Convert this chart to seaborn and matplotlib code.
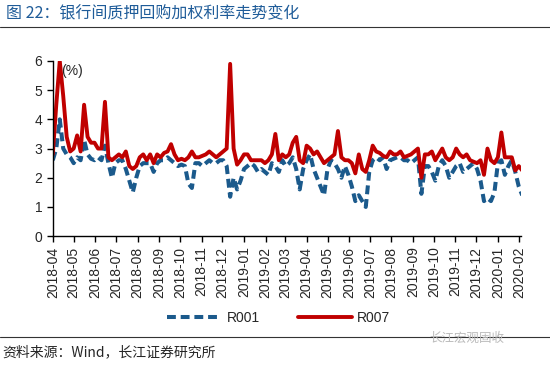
import matplotlib
matplotlib.use('Agg')
import matplotlib.pyplot as plt
import matplotlib.dates as mdates
import seaborn as sns
import pandas as pd

# 5-day samples starting 2018-04-01
r007 = [2.8, 4.5, 6.0, 4.8, 3.4, 2.9, 3.0, 3.45, 2.9, 4.5,
        3.4, 3.2, 3.2, 3.0, 3.0, 4.6, 2.7, 2.6, 2.7, 2.8,
        2.7, 2.9, 2.4, 2.3, 2.4, 2.7, 2.8, 2.6, 2.8, 2.5,
        2.8, 2.7, 2.85, 2.9, 3.15, 2.8, 2.6, 2.65, 2.6, 2.7,
        2.9, 2.7, 2.7, 2.75, 2.8, 2.9, 2.8, 2.7, 2.8, 2.9,
        3.0, 5.9, 3.0, 2.45, 2.6, 2.8, 2.8, 2.6, 2.6, 2.6,
        2.6, 2.5, 2.6, 2.8, 3.5, 2.6, 2.8, 2.7, 2.8, 3.2,
        3.4, 2.6, 2.5, 3.1, 3.0, 2.8, 2.9, 2.7, 2.5, 2.6,
        2.7, 2.8, 3.6, 2.7, 2.6, 2.6, 2.5, 2.15, 2.8, 2.3,
        2.2, 2.6, 3.1, 2.9, 2.85, 2.75, 2.7, 2.9, 2.8, 2.8,
        2.9, 2.7, 2.75, 2.8, 2.9, 3.0, 2.0, 2.8, 2.8, 2.9,
        2.6, 2.8, 3.0, 2.7, 2.6, 2.7, 3.0, 2.8, 2.7, 2.8,
        2.6, 2.55, 2.5, 2.6, 2.1, 3.0, 2.6, 2.5, 2.7, 3.55,
        2.7, 2.7, 2.7, 2.25, 2.4, 2.25]

r001 = [2.6, 3.0, 4.0, 3.0, 2.8, 2.7, 2.5, 2.7, 2.6, 3.3,
        2.8, 2.65, 2.6, 2.7, 2.6, 3.1, 2.5, 2.0, 2.5, 2.6,
        2.6, 2.3, 1.9, 1.5, 2.0, 2.4, 2.5, 2.5, 2.5, 2.2,
        2.5, 2.6, 2.6, 2.7, 2.6, 2.5, 2.4, 2.45, 2.4, 1.8,
        1.65, 2.5, 2.5, 2.4, 2.5, 2.6, 2.5, 2.5, 2.6, 2.6,
        2.4, 1.35, 2.0, 1.6, 1.9, 2.3, 2.4, 2.5, 2.4, 2.2,
        2.3, 2.2, 2.1, 2.5, 2.4, 2.2, 2.6, 2.4, 2.5, 2.7,
        2.3, 1.6, 2.3, 2.6, 2.8, 2.3, 2.0, 1.7, 1.4, 2.3,
        2.6, 2.5, 2.3, 2.0, 2.4, 2.1, 1.7, 1.2, 1.4, 1.2,
        1.0, 2.2, 2.6, 2.7, 2.6, 2.7, 2.3, 2.6, 2.65, 2.7,
        2.7, 2.6, 2.6, 2.5, 2.6, 2.7, 1.45, 2.4, 2.4, 2.2,
        1.9, 2.4, 2.6, 2.4, 2.0, 2.2, 2.4, 2.5, 2.2, 2.3,
        2.4, 2.5, 2.3, 1.9, 1.2, 1.3, 1.2, 1.5, 2.5, 2.6,
        2.1, 2.4, 2.6, 2.2, 1.7, 1.4]

dates = pd.date_range('2018-04-01', periods=len(r001), freq='5D')
df = pd.DataFrame({'date': dates, 'R001': r001, 'R007': r007})

sns.set_style('ticks')
plt.rcParams['font.family'] = ['Liberation Sans', 'Noto Sans CJK SC', 'DejaVu Sans']

fig = plt.figure(figsize=(5.5, 3.65), dpi=100)
ax = fig.add_axes([0.096, 0.353, 0.851, 0.48])

sns.lineplot(data=df, x='date', y='R001', ax=ax, color='#1B5A8C', lw=2.9,
             label='R001')
ax.lines[-1].set_dashes([2.2, 1.2])
sns.lineplot(data=df, x='date', y='R007', ax=ax, color='#C00000', lw=2.8,
             label='R007')

ax.set_ylim(0, 6)
ax.set_yticks(range(0, 7))
ax.set_xlim(pd.Timestamp('2018-04-01'), pd.Timestamp('2020-02-03'))
ax.xaxis.set_major_locator(mdates.MonthLocator())
ax.xaxis.set_major_formatter(mdates.DateFormatter('%Y-%m'))
plt.setp(ax.get_xticklabels(), rotation=90)
ax.tick_params(axis='both', labelsize=10, length=4, width=1, color='black')
ax.set_xlabel('')
ax.set_ylabel('')
for s in ['left', 'bottom']:
    ax.spines[s].set_color('black')
    ax.spines[s].set_linewidth(1)
sns.despine(ax=ax)
ax.text(0.018, 0.985, '(%)', transform=ax.transAxes, fontsize=10, va='top')

ax.legend_.remove()
handles, labels = ax.get_legend_handles_labels()
fig.legend(handles, labels, loc='center', bbox_to_anchor=(0.507, 0.128), ncol=2,
           frameon=False, fontsize=10, handlelength=3.9, columnspacing=2.7,
           handletextpad=0.4)

fig.text(0.01, 0.962, '图 22：银行间质押回购加权利率走势变化', fontsize=11.5,
         color='#1F5C99', va='center', family=['Noto Sans CJK SC', 'DejaVu Sans'])
fig.add_artist(plt.Line2D([0, 1], [0.926, 0.926], color='#333333', lw=0.8))
fig.add_artist(plt.Line2D([0, 1], [0.077, 0.077], color='#333333', lw=0.8))
fig.text(0.78, 0.074, '长江宏观固收', fontsize=9, color='#BBBBBB', va='center',
         family=['Noto Sans CJK SC', 'DejaVu Sans'])
fig.text(0.004, 0.035, '资料来源：Wind，长江证券研究所', fontsize=10, va='center',
         family=['Noto Sans CJK SC', 'DejaVu Sans'])

fig.savefig('out.png', dpi=100)
